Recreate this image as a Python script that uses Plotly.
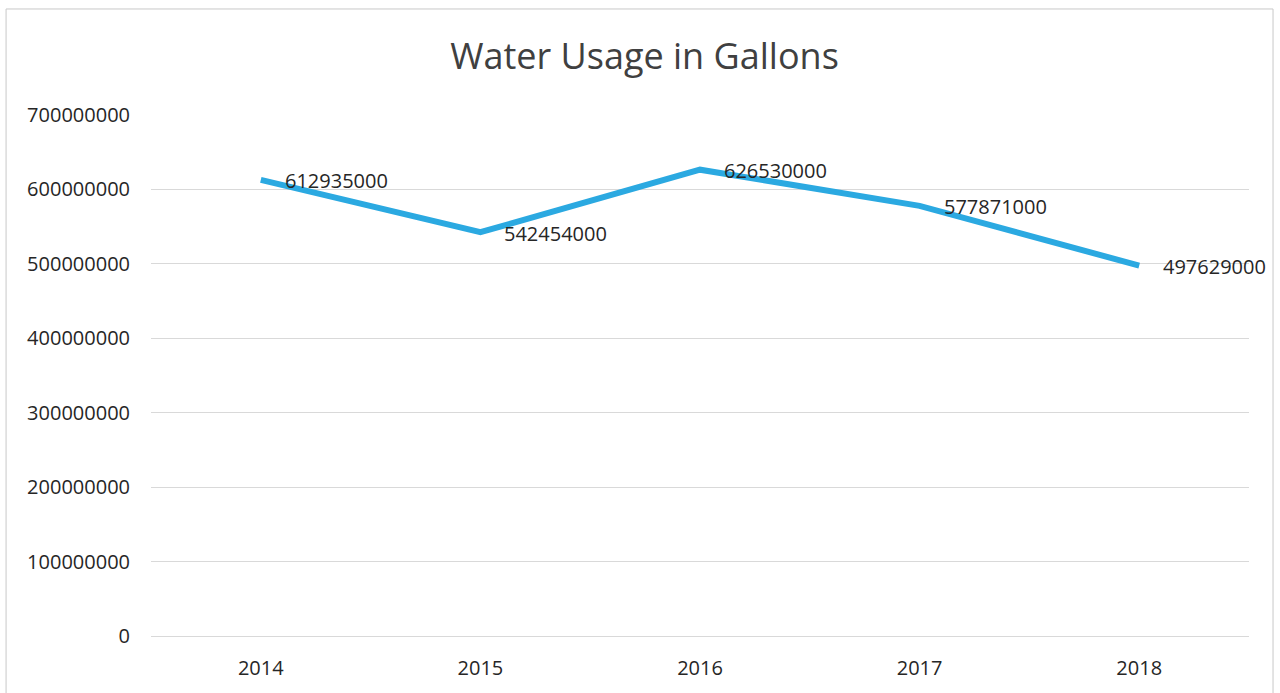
import plotly.graph_objects as go

years = ["2014", "2015", "2016", "2017", "2018"]
usage = [612935000, 542454000, 626530000, 577871000, 497629000]
y_ticks = [0, 100000000, 200000000, 300000000, 400000000, 500000000, 600000000, 700000000]

FONT = "Open Sans"
TEXT = "#262626"
GRID = "#d9d9d9"
LINE = "#2ba9e1"

# category positions along the x axis
xpos = list(range(len(years)))

fig = go.Figure()
fig.add_trace(go.Scatter(
    x=xpos, y=usage, mode="lines",
    line=dict(color=LINE, width=6),
    customdata=years, hovertemplate="%{customdata}: %{y}<extra></extra>",
    showlegend=False,
))

# value labels to the right of each point
for x, y in zip(xpos, usage):
    fig.add_annotation(
        x=x, y=y, text=str(y), showarrow=False,
        xanchor="left", yanchor="middle", xshift=22, yshift=-1,
        font=dict(family=FONT, size=20, color=TEXT),
    )

# light frame around the whole chart
fig.add_shape(
    type="rect", xref="paper", yref="paper",
    x0=-0.132, x1=1.0219, y0=-0.3, y1=1.2035,
    line=dict(color="#c8c8c8", width=1), fillcolor="rgba(0,0,0,0)",
    layer="below",
)

fig.update_layout(
    width=1280, height=693,
    margin=dict(l=151, r=31, t=115, b=57),
    paper_bgcolor="white", plot_bgcolor="white",
    title=dict(
        text="Water Usage in Gallons",
        x=0.5035, xanchor="center", y=0.918, yanchor="middle",
        font=dict(family=FONT, size=36, color="#404040"),
    ),
    font=dict(family=FONT, size=20, color=TEXT),
    xaxis=dict(
        range=[-0.5, len(years) - 0.5],
        tickvals=xpos, ticktext=years,
        showgrid=False, showline=False, zeroline=False,
        ticks="", tickfont=dict(family=FONT, size=20, color=TEXT),
        ticklabelstandoff=18,
    ),
    yaxis=dict(
        range=[0, 700000000], tickvals=y_ticks,
        ticktext=[str(v) for v in y_ticks],
        showgrid=True, gridcolor=GRID, gridwidth=1,
        zeroline=True, zerolinecolor=GRID, zerolinewidth=1,
        showline=False, ticks="",
        tickfont=dict(family=FONT, size=20, color=TEXT),
        ticklabelstandoff=20,
    ),
)

fig.write_html("out.html")
